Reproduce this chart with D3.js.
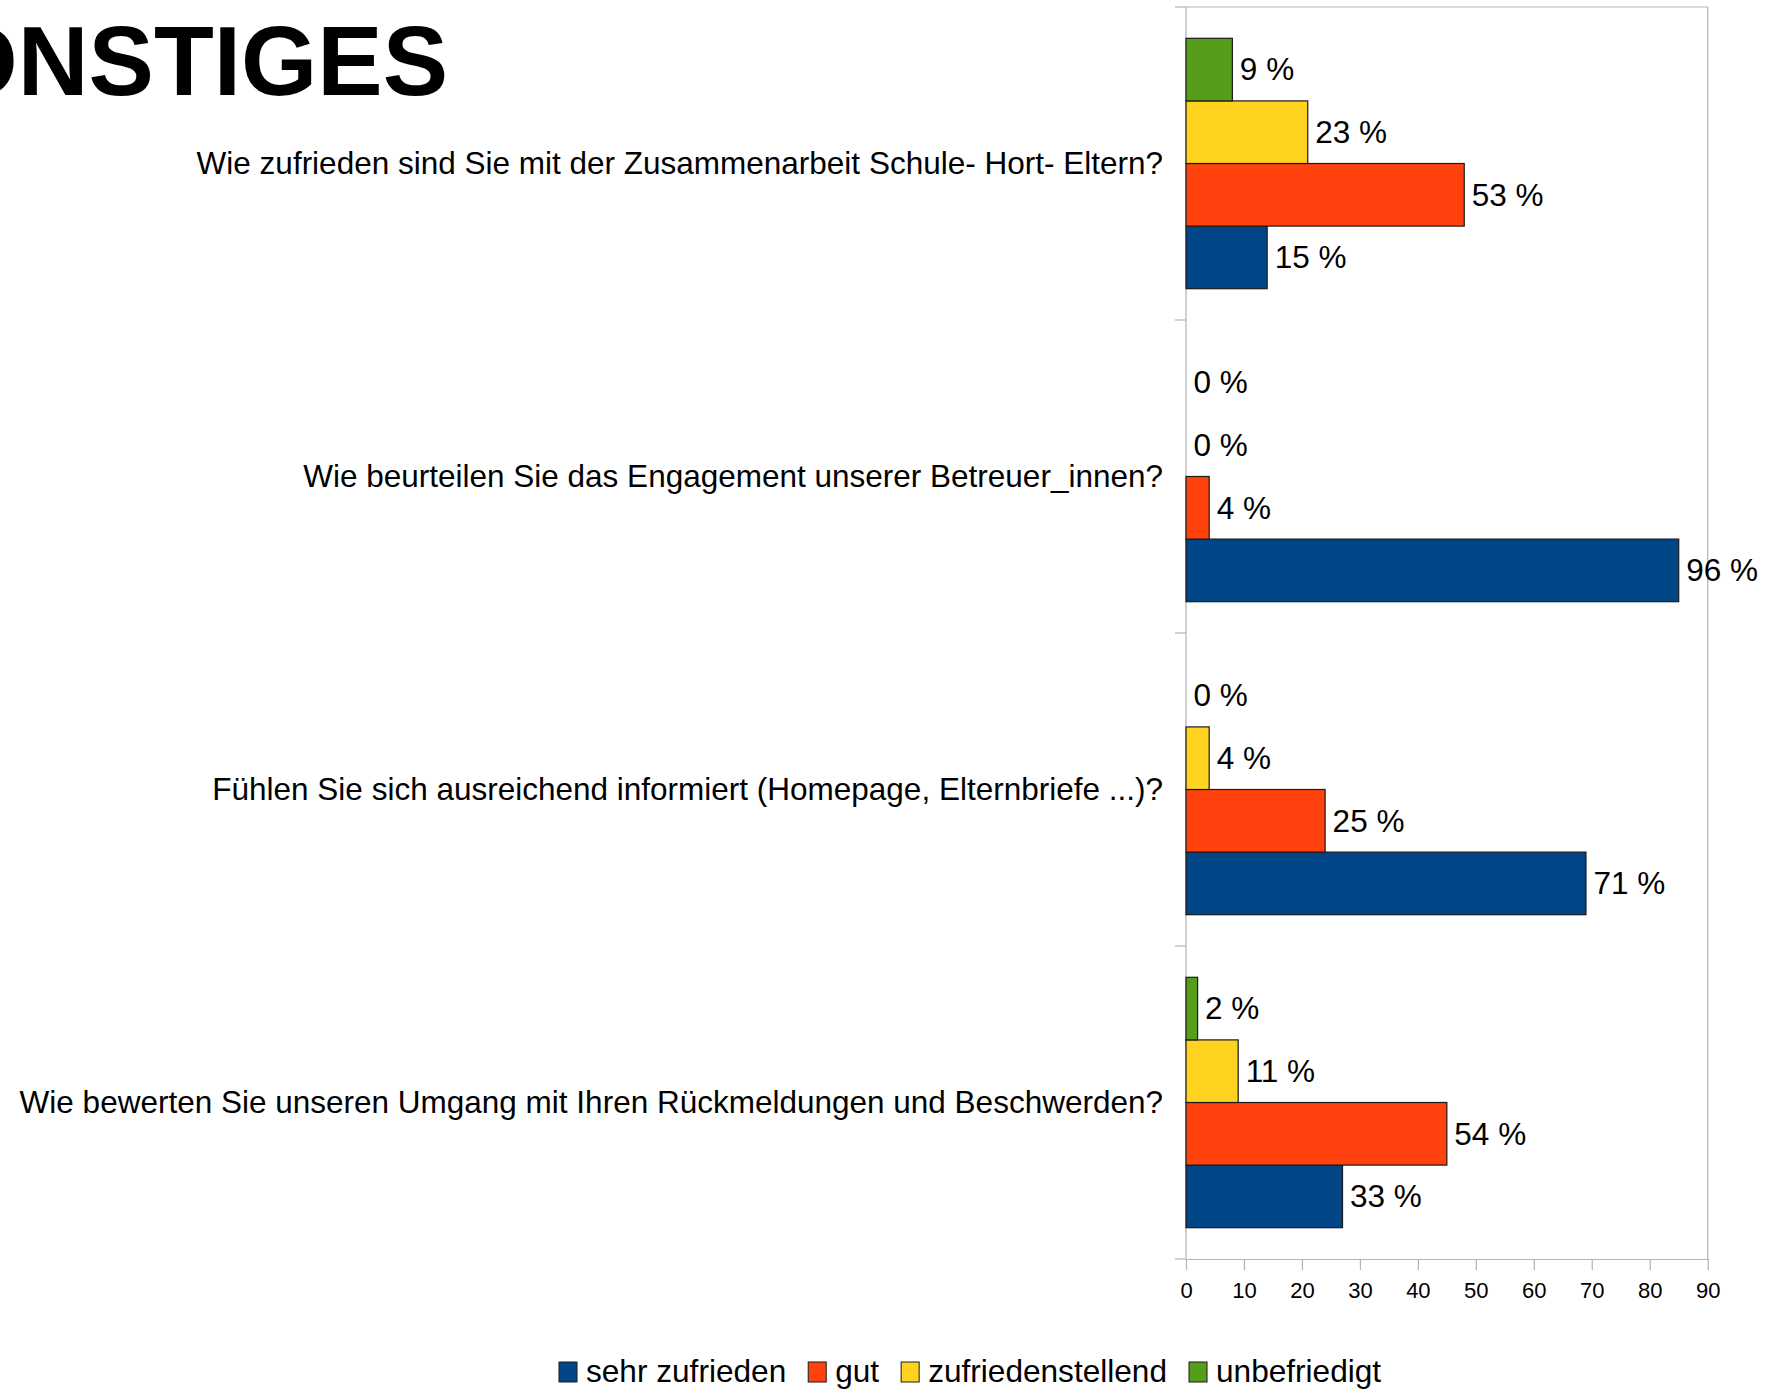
<!DOCTYPE html>
<html>
<head>
<meta charset="utf-8">
<script src="https://cdn.jsdelivr.net/npm/d3@7"></script>
<style>
  html, body { margin: 0; padding: 0; background: #fff; }
  svg { display: block; font-family: "Liberation Sans", Arial, sans-serif; }
</style>
</head>
<body>
<div id="chart"></div>
<script>
// categories, top to bottom
const questions = [
  'Wie zufrieden sind Sie mit der Zusammenarbeit Schule- Hort- Eltern?',
  'Wie beurteilen Sie das Engagement unserer Betreuer_innen?',
  'Fühlen Sie sich ausreichend informiert (Homepage, Elternbriefe ...)?',
  'Wie bewerten Sie unseren Umgang mit Ihren Rückmeldungen und Beschwerden?'
];

// series names (legend order)
const seriesNames = ['sehr zufrieden', 'gut', 'zufriedenstellend', 'unbefriedigt'];

// bar lengths (answer counts)
const sehrZufrieden = [14, 85, 69, 27];
const gut = [48, 4, 24, 45];
const zufriedenstellend = [21, 0, 4, 9];
const unbefriedigt = [8, 0, 0, 2];

// printed labels (percent)
const sehrZufriedenPct = [15, 96, 71, 33];
const gutPct = [53, 4, 25, 54];
const zufriedenstellendPct = [23, 0, 4, 11];
const unbefriedigtPct = [9, 0, 0, 2];

const xTicks = [0, 10, 20, 30, 40, 50, 60, 70, 80, 90];

const colors = {
  'sehr zufrieden': '#004586',
  'gut': '#ff420e',
  'zufriedenstellend': '#ffd320',
  'unbefriedigt': '#579d1c'
};

const valuesBySeries = {
  'sehr zufrieden': sehrZufrieden,
  'gut': gut,
  'zufriedenstellend': zufriedenstellend,
  'unbefriedigt': unbefriedigt
};
const pctBySeries = {
  'sehr zufrieden': sehrZufriedenPct,
  'gut': gutPct,
  'zufriedenstellend': zufriedenstellendPct,
  'unbefriedigt': unbefriedigtPct
};

const W = 1779, H = 1389;
const plot = { left: 1186, right: 1707.7, top: 7, bottom: 1259 };
const labelSize = '31.5px';

const svg = d3.select('#chart').append('svg')
  .attr('width', W)
  .attr('height', H);

// title (cut off at the left edge, like the slide)
svg.append('text')
  .attr('x', 448)
  .attr('y', 95)
  .attr('text-anchor', 'end')
  .style('font-size', '98px')
  .style('font-weight', 'bold')
  .text('SONSTIGES');

const x = d3.scaleLinear().domain([0, 90]).range([plot.left, plot.right]);
const y = d3.scaleBand().domain(questions).range([plot.top, plot.bottom]).padding(0);
const inner = d3.scaleBand()
  .domain(['unbefriedigt', 'zufriedenstellend', 'gut', 'sehr zufrieden'])
  .range([y.bandwidth() * 0.1, y.bandwidth() * 0.9]);

const gridColor = '#b3b3b3';

// frame: top + right
svg.append('line')
  .attr('x1', plot.left).attr('x2', plot.right)
  .attr('y1', plot.top).attr('y2', plot.top)
  .attr('stroke', gridColor).attr('stroke-width', 1.2);
svg.append('line')
  .attr('x1', plot.right).attr('x2', plot.right)
  .attr('y1', plot.top).attr('y2', plot.bottom)
  .attr('stroke', gridColor).attr('stroke-width', 1.2);

// x axis
const xAxis = svg.append('g')
  .attr('transform', `translate(0,${plot.bottom})`)
  .call(d3.axisBottom(x).tickValues(xTicks).tickSize(11).tickSizeOuter(0).tickPadding(12));
xAxis.select('.domain').attr('stroke', gridColor).attr('stroke-width', 1.2);
xAxis.selectAll('.tick line').attr('stroke', gridColor).attr('stroke-width', 1.2);
xAxis.selectAll('.tick text')
  .attr('fill', '#000')
  .style('font-size', '22px')
  .style('font-family', '"Liberation Sans", Arial, sans-serif');

// y axis line + separator ticks at band edges
svg.append('line')
  .attr('x1', plot.left).attr('x2', plot.left)
  .attr('y1', plot.top).attr('y2', plot.bottom)
  .attr('stroke', gridColor).attr('stroke-width', 1.2);
const edges = questions.map(q => y(q)).concat([plot.bottom]);
svg.append('g').selectAll('line')
  .data(edges)
  .join('line')
  .attr('x1', plot.left - 11).attr('x2', plot.left)
  .attr('y1', d => d).attr('y2', d => d)
  .attr('stroke', gridColor).attr('stroke-width', 1.2);

// category labels
svg.append('g').selectAll('text')
  .data(questions)
  .join('text')
  .attr('x', 1163)
  .attr('y', d => y(d) + y.bandwidth() / 2)
  .attr('dy', '0.34em')
  .attr('text-anchor', 'end')
  .style('font-size', labelSize)
  .text(d => d);

// bars
const rows = [];
questions.forEach((q, i) => {
  seriesNames.forEach(s => {
    rows.push({ q, s, v: valuesBySeries[s][i], pct: pctBySeries[s][i] });
  });
});

const groups = svg.append('g').selectAll('g')
  .data(rows)
  .join('g')
  .attr('transform', d => `translate(0,${y(d.q) + inner(d.s)})`);

groups.filter(d => d.v > 0)
  .append('rect')
  .attr('x', x(0))
  .attr('y', 0)
  .attr('width', d => x(d.v) - x(0))
  .attr('height', inner.bandwidth())
  .attr('fill', d => colors[d.s])
  .attr('stroke', '#1a1a1a')
  .attr('stroke-width', 1.2);

groups.append('text')
  .attr('x', d => x(d.v) + 7.5)
  .attr('y', inner.bandwidth() / 2)
  .attr('dy', '0.34em')
  .style('font-size', labelSize)
  .text(d => `${d.pct} %`);

// legend
const legend = svg.append('g').attr('transform', 'translate(559,1382)');
let lx = 0;
seriesNames.forEach(s => {
  const item = legend.append('g').attr('transform', `translate(${lx},0)`);
  item.append('rect')
    .attr('x', 0).attr('y', -20)
    .attr('width', 18).attr('height', 20)
    .attr('fill', colors[s])
    .attr('stroke', '#1a1a1a')
    .attr('stroke-width', 1);
  const t = item.append('text')
    .attr('x', 27)
    .attr('y', 0)
    .style('font-size', '31.6px')
    .text(s);
  lx += 27 + t.node().getComputedTextLength() + 22;
});
</script>
</body>
</html>
